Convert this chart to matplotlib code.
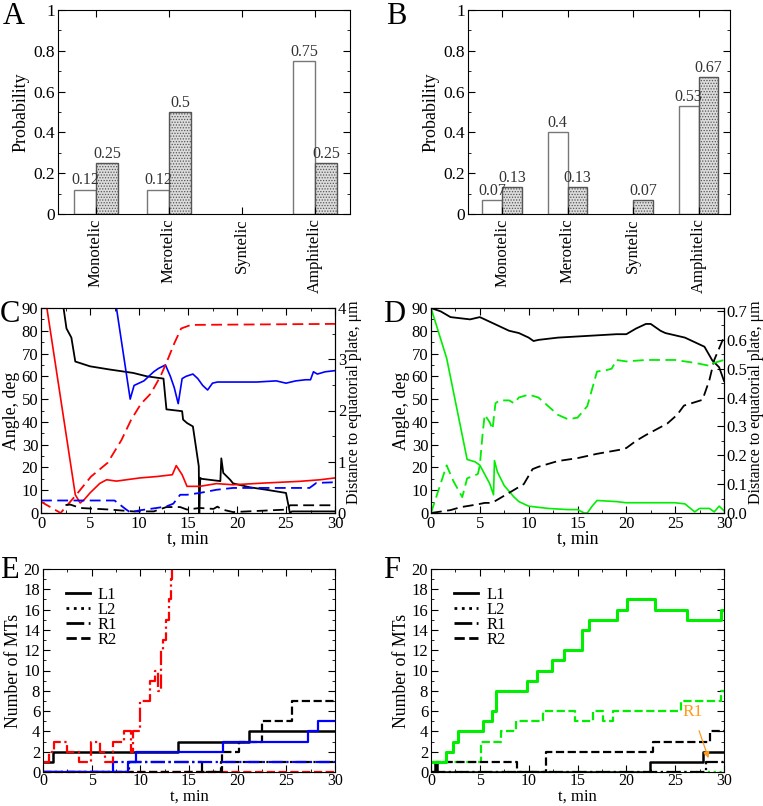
"""Kinetochore orientation panels A-F."""

import matplotlib
matplotlib.use("Agg")
import matplotlib.pyplot as plt
from matplotlib.ticker import MultipleLocator

plt.rcParams["font.family"] = ["Liberation Serif", "DejaVu Serif"]
plt.rcParams["font.size"] = 12.5
plt.rcParams["hatch.color"] = "#8c8c8c"
plt.rcParams["hatch.linewidth"] = 0.6

TICK_FS = 12
LABEL_FS = 12.8

# ---- A / B: attachment probabilities
categories = ["Monotelic", "Merotelic", "Syntelic", "Amphitelic"]
a_plain = [0.12, 0.12, 0.0, 0.75]
a_hatched = [0.25, 0.5, 0.0, 0.25]
b_plain = [0.07, 0.4, 0.0, 0.53]
b_hatched = [0.13, 0.13, 0.07, 0.67]

# ---- C: angle (deg) and distance (um) vs time (min)
c_t_black = [0, 2.3, 2.6, 3.1, 3.5, 5, 7, 9.4, 10.8, 12.5, 12.8, 14.4, 14.5, 14.9, 15.5,
             16.1, 16.15, 16.25, 16.4, 18.3, 18.4, 18.6, 19.3, 19.6, 21.3, 23, 25, 25.4, 25.6, 30]
c_ang_black = [90, 90, 81, 77, 66.5, 64.4, 63, 61.5, 60, 59, 45.5, 44.7, 41, 39.5, 38,
               20.5, 0, 15.4, 15, 14, 24, 17.6, 14.6, 13, 11.3, 10.2, 8.8, 0, 0.7, 0.7]
c_t_blue = [0, 7.7, 9.1, 9.5, 10, 10.5, 11, 11.5, 12, 12.7, 13.2, 13.6, 14.0, 14.4, 14.8,
            15.5, 16.0, 16.5, 17.0, 17.5, 18, 20, 22, 24, 25, 26, 27, 27.5, 27.8, 28.2, 29, 30]
c_ang_blue = [90, 90, 50, 56, 57, 58, 60, 62, 63.5, 65, 60, 55, 48, 59, 60,
              61, 59, 56, 54, 57, 57.5, 57.5, 57.5, 58, 57, 58, 58.5, 58.5, 62, 61, 62, 62.5]
c_t_red = [0.6, 3.5, 4.0, 4.4, 5.0, 6.0, 6.7, 7.7, 10.1, 11.8, 13.4, 13.8, 14.4, 14.9,
           16.2, 17.9, 19.6, 23, 26.4, 28.5, 30]
c_ang_red = [90, 8, 4.4, 5.8, 8.8, 13, 14.6, 14, 15.4, 16, 16.8, 20.8, 16.8, 11.7,
             11.7, 12.9, 12.4, 13.2, 13.9, 14.6, 15.4]
c_t_red_d = [0, 2, 3.7, 5.1, 6.8, 8.2, 9.2, 10.2, 11.2, 12.2, 12.9, 13.6, 14.3, 15.3, 30]
c_dist_red = [0.22, 0, 0.38, 0.71, 0.98, 1.42, 1.82, 2.13, 2.33, 2.67, 2.98, 3.31, 3.6, 3.67, 3.69]
c_t_black_d = [2.5, 3, 4, 7, 9.4, 11.5, 12.8, 14.2, 14.9, 16.2, 17.6, 18, 18.5, 19.6, 25.1, 25.4, 30]
c_dist_black = [0.156, 0.164, 0.098, 0.067, 0.031, 0.031, 0.116, 0.116, 0.067, 0.098,
                0.08, 0.124, 0.067, 0.018, 0.067, 0.151, 0.151]
c_t_blue_d = [0, 7.5, 8.7, 9.1, 10.1, 11.8, 12.8, 13.5, 14.2, 14.9, 16.2, 17.9, 19.6, 23,
              27.4, 28.1, 30]
c_dist_blue = [0.244, 0.244, 0.067, 0.013, 0.053, 0.098, 0.129, 0.182, 0.356, 0.356,
               0.391, 0.453, 0.489, 0.489, 0.489, 0.587, 0.6]

# ---- D
d_t_black = [0, 1, 2, 3, 4, 5, 6, 7, 8, 9, 10, 10.5, 11, 13, 15, 17, 19, 20, 21, 22, 22.5,
             23.5, 24, 26, 27, 28, 28.8, 29.5, 30]
d_ang_black = [90, 88.5, 86, 85.5, 85, 86, 84, 82, 80, 79, 77, 75.5, 76, 77, 77.5, 78, 78.5,
               78.5, 81, 83, 83, 80, 79, 77, 75, 73, 67, 64, 58]
d_t_black_d = [0, 1, 2, 3, 4.8, 5.5, 6, 6.5, 7.5, 8.5, 9.5, 10.4, 11, 13, 15, 17, 19.5, 20,
               21, 22, 24.2, 25.2, 25.9, 27.8, 28.5, 29, 30]
d_dist_black = [0, 0.005, 0.01, 0.02, 0.03, 0.035, 0.035, 0.04, 0.06, 0.08, 0.1, 0.152, 0.16,
                0.18, 0.19, 0.205, 0.22, 0.225, 0.25, 0.27, 0.31, 0.34, 0.372, 0.392, 0.46,
                0.53, 0.61]
d_t_green = [0, 1.6, 3.7, 4.5, 5, 5.5, 6, 6.4, 6.5, 6.8, 7.5, 8.5, 9, 10, 12, 14, 15, 15.7,
             16, 16.5, 17, 19, 20, 25, 26, 27, 27.5, 28.5, 29, 29.5, 30]
d_ang_green = [90, 68, 23.5, 22.5, 21, 17, 13, 8, 23, 18, 12, 7, 5, 3, 2, 1.5, 1.5, 0,
               0, 3, 5.5, 5, 4.5, 4.5, 4, 0.5, 2, 2, 0.5, 3, 1]
d_t_green_d = [0, 1.6, 2.3, 3.2, 3.7, 4.8, 5.0, 5.3, 5.5, 6.0, 6.3, 6.6, 7, 8, 8.5, 9, 10,
               11, 12, 13, 14, 15, 16, 16.5, 17, 18, 18.5, 19, 20, 22, 25, 27, 28.5, 29, 30]
d_dist_green = [0, 0.165, 0.11, 0.055, 0.12, 0.135, 0.165, 0.28, 0.34, 0.315, 0.29, 0.38,
                0.39, 0.39, 0.38, 0.40, 0.41, 0.40, 0.37, 0.34, 0.325, 0.33, 0.37, 0.43,
                0.49, 0.495, 0.50, 0.53, 0.525, 0.53, 0.53, 0.52, 0.51, 0.52, 0.53]

# ---- E: number of MTs (step data, value holds until next time)
e_t_black_l1 = [0, 1.0, 13.9, 21.2, 30]
e_n_black_l1 = [1, 2, 3, 4, 4]
e_t_black_r1 = [0, 8.8, 16.3, 18.3, 30]
e_n_black_r1 = [0, 1, 0, 1, 1]
e_t_black_r2 = [0, 18.4, 20.1, 22.5, 25.6, 30]
e_n_black_r2 = [0, 2, 3, 5, 7, 7]
e_t_blue_l1 = [0, 8.7, 9.6, 18.5, 27.2, 28.3, 30]
e_n_blue_l1 = [0, 1, 2, 3, 4, 5, 5]
e_t_blue_r1 = [0, 7.2, 30]
e_n_blue_r1 = [0, 1, 1]
e_t_red_r1 = [0, 0.6, 1.1, 2.5, 3.2, 3.7, 4.9, 5.9, 6.4, 7.2, 8.3, 9.0, 9.2, 9.6, 10.0,
              11.0, 11.5, 11.8, 12.1, 12.3, 12.6, 12.9, 13.1, 13.3]
e_n_red_r1 = [1, 2, 3, 2, 2, 1, 3, 2, 1, 3, 4, 2, 4, 4, 7, 9, 10, 8, 12, 13, 15, 17, 19, 20]
e_t_red_r2 = [0, 30]
e_n_red_r2 = [0, 0]

# ---- F
f_t_green_l1 = [0, 1.57, 2.25, 2.76, 5.3, 6.2, 6.7, 9.86, 10.9, 12.4, 13.6, 15.5, 16.2,
                19.0, 20.1, 22.9, 26.2, 29.7, 30]
f_n_green_l1 = [1, 2, 3, 4, 5, 6, 8, 9, 10, 11, 12, 14, 15, 16, 17, 16, 15, 16, 16]
f_t_green_r2 = [0, 5.15, 7.2, 8.7, 11.5, 14.7, 16.6, 17.6, 18.6, 25.6, 29.7, 30]
f_n_green_r2 = [1, 3, 4, 5, 6, 5, 6, 5, 6, 7, 8, 8]
f_t_green_l2 = [0, 30]
f_n_green_l2 = [0, 0]
f_t_black_l1 = [0, 0.45, 0.65, 22.4, 27.9, 30]
f_n_black_l1 = [0, 1, 0, 1, 2, 2]
f_t_black_r2 = [0, 0.5, 8.8, 11.8, 22.7, 28.6, 30]
f_n_black_r2 = [0, 1, 0, 2, 3, 4, 4]
f_t_black_r1 = [0, 28.2, 30]
f_n_black_r1 = [0, 1, 1]

RED, BLUE, GREEN = "#ff0000", "#0000ff", "#00ee00"


def style_ticks(ax, right=True, top=True):
    ax.tick_params(which="both", direction="in", top=top, right=right, labelsize=TICK_FS,
                   pad=2)
    ax.tick_params(which="major", length=5)
    ax.tick_params(which="minor", length=2.5)


def bar_panel(ax, plain, hatched):
    xs = list(range(1, len(categories) + 1))
    w = 0.3
    for x, p, h in zip(xs, plain, hatched):
        if p > 0:
            ax.bar(x - w / 2, p, w, color="white", edgecolor="#777777", lw=1)
            ax.text(x - w / 2, p + 0.005, f"{p:g}", ha="center", va="bottom", fontsize=11.5,
                    color="#333333")
        if h > 0:
            ax.bar(x + w / 2, h, w, color="#dcdcdc", edgecolor="#555555", lw=1, hatch="......")
            ax.text(x + w / 2, h + 0.005, f"{h:g}", ha="center", va="bottom", fontsize=11.5,
                    color="#333333")
    ax.set_xlim(0.48, 4.48)
    ax.set_ylim(0, 1)
    ax.set_xticks(xs)
    ax.set_xticklabels(categories, rotation=90, fontsize=13)
    ax.yaxis.set_minor_locator(MultipleLocator(0.1))
    ax.set_yticks([0, 0.2, 0.4, 0.6, 0.8, 1])
    ax.set_yticklabels(["0", "0.2", "0.4", "0.6", "0.8", "1"])
    ax.set_ylabel("Probability", fontsize=13, labelpad=3)
    style_ticks(ax)
    ax.tick_params(axis="y", labelsize=12.5)
    ax.tick_params(axis="x", which="both", length=5, pad=3)


def angle_panel(ax, dmax, dstep):
    ax.set_xlim(0, 30)
    ax.set_ylim(0, 90)
    ax.xaxis.set_major_locator(MultipleLocator(5))
    ax.xaxis.set_minor_locator(MultipleLocator(2.5))
    ax.yaxis.set_major_locator(MultipleLocator(10))
    ax.yaxis.set_minor_locator(MultipleLocator(5))
    ax.set_xlabel("t, min", fontsize=LABEL_FS, labelpad=-1)
    ax.set_ylabel("Angle, deg", fontsize=LABEL_FS, labelpad=1)
    style_ticks(ax, right=False)
    ax2 = ax.twinx()
    ax2.set_ylim(0, dmax)
    ax2.yaxis.set_major_locator(MultipleLocator(dstep))
    ax2.yaxis.set_minor_locator(MultipleLocator(dstep / 2))
    ax2.tick_params(which="both", direction="in", labelsize=TICK_FS, pad=2)
    ax2.tick_params(which="major", length=5)
    ax2.tick_params(which="minor", length=2.5)
    lab = ax2.set_ylabel("Distance to equatorial plate, μm", fontsize=11.5, labelpad=0)
    lab.set_y(0.54)
    return ax2


def mt_panel(ax):
    ax.set_xlim(0, 30)
    ax.set_ylim(0, 20)
    ax.xaxis.set_major_locator(MultipleLocator(5))
    ax.xaxis.set_minor_locator(MultipleLocator(2.5))
    ax.yaxis.set_major_locator(MultipleLocator(2))
    ax.yaxis.set_minor_locator(MultipleLocator(1))
    ax.set_xlabel("t, min", fontsize=12, labelpad=-0.5)
    ax.set_ylabel("Number of MTs", fontsize=LABEL_FS, labelpad=1)
    style_ticks(ax)
    ax.tick_params(axis="x", which="both", pad=1, labelsize=11.5)
    handles = [
        ax.plot([], [], color="black", lw=2, ls="-")[0],
        ax.plot([], [], color="black", lw=2, ls=":")[0],
        ax.plot([], [], color="black", lw=2, ls="-.")[0],
        ax.plot([], [], color="black", lw=2, ls="--")[0],
    ]
    ax.legend(handles, ["L1", "L2", "R1", "R2"], loc="upper left", frameon=False,
              bbox_to_anchor=(0.04, 0.97), handlelength=1.4, labelspacing=-0.05,
              fontsize=12, borderpad=0.2, handletextpad=0.5)


fig = plt.figure(figsize=(7.63, 8.06), dpi=100)
W, H = 763, 806


def add_axes(left, top, right, bottom):
    return fig.add_axes([left / W, 1 - bottom / H, (right - left) / W, (bottom - top) / H])


ax_a = add_axes(58, 10, 350, 214)
ax_b = add_axes(468, 10, 730, 214)
ax_c = add_axes(41, 308, 335, 513)
ax_d = add_axes(431, 308, 724, 513)
ax_e = add_axes(43, 569, 335, 772)
ax_f = add_axes(431, 569, 724, 772)

bar_panel(ax_a, a_plain, a_hatched)
bar_panel(ax_b, b_plain, b_hatched)

# C
c2 = angle_panel(ax_c, 4, 1)
ax_c.plot(c_t_black, c_ang_black, color="black", lw=1.3)
ax_c.plot(c_t_blue, c_ang_blue, color=BLUE, lw=1.2)
ax_c.plot(c_t_red, c_ang_red, color=RED, lw=1.2)
c2.plot(c_t_red_d, c_dist_red, color=RED, lw=1.3, ls=(0, (6, 3)))
c2.plot(c_t_black_d, c_dist_black, color="black", lw=1.3, ls=(0, (6, 3)))
c2.plot(c_t_blue_d, c_dist_blue, color=BLUE, lw=1.3, ls=(0, (6, 3)))

# D
d2 = angle_panel(ax_d, 0.71, 0.1)
ax_d.plot(d_t_black, d_ang_black, color="black", lw=1.3)
ax_d.plot(d_t_green, d_ang_green, color=GREEN, lw=1.2)
d2.plot(d_t_black_d, d_dist_black, color="black", lw=1.3, ls=(0, (6, 3)))
d2.plot(d_t_green_d, d_dist_green, color=GREEN, lw=1.3, ls=(0, (6, 3)))

# E
mt_panel(ax_e)
ax_e.step(e_t_red_r2, e_n_red_r2, where="post", color=RED, lw=1.6, ls="--", clip_on=False)
ax_e.step(e_t_black_r1, e_n_black_r1, where="post", color="black", lw=1.6, ls="-.")
ax_e.step(e_t_black_r2, e_n_black_r2, where="post", color="black", lw=1.6, ls="--")
ax_e.step(e_t_black_l1, e_n_black_l1, where="post", color="black", lw=1.8)
ax_e.step(e_t_blue_r1, e_n_blue_r1, where="post", color=BLUE, lw=1.6, ls="-.")
ax_e.step(e_t_blue_l1, e_n_blue_l1, where="post", color=BLUE, lw=1.6)
ax_e.step(e_t_red_r1, e_n_red_r1, where="post", color=RED, lw=1.6, ls="-.")

# F
mt_panel(ax_f)
ax_f.step(f_t_green_l2, f_n_green_l2, where="post", color=GREEN, lw=1.6, ls=":",
          clip_on=False)
ax_f.step(f_t_green_r2, f_n_green_r2, where="post", color=GREEN, lw=1.6, ls="--")
ax_f.step(f_t_black_r2, f_n_black_r2, where="post", color="black", lw=1.6, ls="--")
ax_f.step(f_t_black_r1, f_n_black_r1, where="post", color="black", lw=1.6, ls="-.")
ax_f.step(f_t_black_l1, f_n_black_l1, where="post", color="black", lw=1.8)
ax_f.step(f_t_green_l1, f_n_green_l1, where="post", color=GREEN, lw=2.2)
ax_f.annotate("R1", xy=(28.5, 1.1), xytext=(26.8, 5.9), color="#ff9a1a", fontsize=12.5,
              ha="center", va="center",
              arrowprops=dict(arrowstyle="-|>", color="#ff9a1a", lw=0.9, shrinkA=6,
                              mutation_scale=9))

for lab, x, y in [("A", 3, 2), ("B", 386, 2), ("C", 0, 300), ("D", 383, 300),
                  ("E", 0, 556), ("F", 383, 556)]:
    fig.text(x / W, 1 - y / H, lab, fontsize=22, ha="left", va="top")

fig.savefig("out.png", dpi=100)
